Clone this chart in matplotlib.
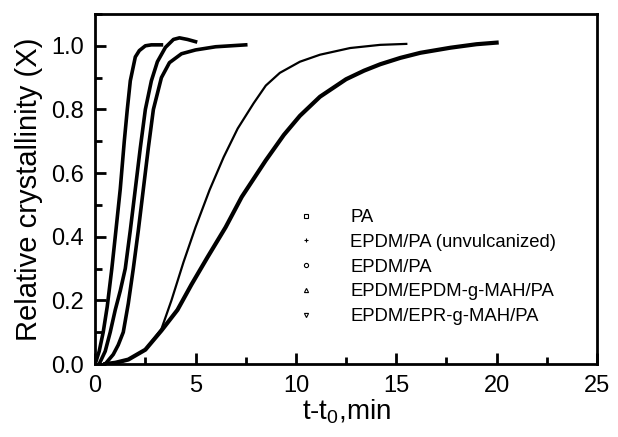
import matplotlib.pyplot as plt
from matplotlib.lines import Line2D
from matplotlib.ticker import MultipleLocator

plt.rcParams['font.family'] = ['Liberation Sans', 'DejaVu Sans']
plt.rcParams['mathtext.default'] = 'regular'

# values (t - t0 in min, relative crystallinity X)
t_pa = [0.2, 0.5, 0.75, 1.0, 1.25, 1.5, 1.75, 2.0, 2.25, 2.5, 2.8, 3.1, 3.5, 3.9, 4.2, 4.6, 5.0]
x_pa = [0, 0.04, 0.1, 0.17, 0.23, 0.3, 0.42, 0.55, 0.68, 0.8, 0.89, 0.95, 0.995, 1.02, 1.025, 1.02, 1.013]

t_unv = [0.8, 1.2, 1.65, 2.5, 3.3, 3.8, 4.4, 5.0, 5.7, 6.4, 7.1, 7.9, 8.5, 9.2, 10.2, 11.2, 12.7,
         14.2, 15.5]
x_unv = [0, 0.004, 0.014, 0.045, 0.11, 0.2, 0.32, 0.43, 0.547, 0.65, 0.74, 0.82, 0.875, 0.915, 0.95,
         0.972, 0.993, 1.003, 1.006]

t_epdm = [0.5, 0.9, 1.15, 1.4, 1.65, 1.9, 2.15, 2.4, 2.65, 2.9, 3.3, 3.7, 4.3, 5.0, 6.0, 7.5]
x_epdm = [0, 0.03, 0.06, 0.1, 0.19, 0.3, 0.42, 0.55, 0.68, 0.8, 0.9, 0.947, 0.975, 0.987, 0.997, 1.003]

t_mah = [0.5, 1.0, 1.65, 2.5, 3.3, 4.1, 4.8, 5.6, 6.5, 7.3, 8.5, 9.4, 10.2, 11.2, 12.5, 13.4, 14.2,
         15.2, 16.2, 17.7, 19.0, 20.0]
x_mah = [0, 0.004, 0.014, 0.045, 0.105, 0.17, 0.25, 0.336, 0.43, 0.525, 0.64, 0.72, 0.78, 0.84, 0.895,
         0.922, 0.942, 0.962, 0.978, 0.994, 1.005, 1.01]

t_epr = [0, 0.2, 0.4, 0.6, 0.83, 1.0, 1.25, 1.45, 1.6, 1.75, 2.0, 2.2, 2.5, 2.8, 3.3]
x_epr = [0, 0.04, 0.1, 0.18, 0.3, 0.4, 0.55, 0.7, 0.8, 0.89, 0.965, 0.985, 1.0, 1.003, 1.003]

labels = ['PA', 'EPDM/PA (unvulcanized)', 'EPDM/PA', 'EPDM/EPDM-g-MAH/PA', 'EPDM/EPR-g-MAH/PA']
markers = ['s', '+', 'o', '^', 'v']

fig = plt.figure(figsize=(6.18, 4.37), dpi=100)
ax = fig.add_axes([0.154, 0.167, 0.812, 0.801])

ax.plot(t_pa, x_pa, color='black', lw=2.6)
ax.plot(t_unv, x_unv, color='black', lw=1.6)
ax.plot(t_epdm, x_epdm, color='black', lw=2.6)
ax.plot(t_mah, x_mah, color='black', lw=3.0)
ax.plot(t_epr, x_epr, color='black', lw=2.6)

ax.set_xlim(0, 25)
ax.set_ylim(0, 1.1)
ax.xaxis.set_major_locator(MultipleLocator(5))
ax.xaxis.set_minor_locator(MultipleLocator(2.5))
ax.yaxis.set_major_locator(MultipleLocator(0.2))
ax.yaxis.set_minor_locator(MultipleLocator(0.1))
ax.tick_params(which='both', direction='in', width=2, labelsize=17, colors='black')
ax.tick_params(which='major', length=8)
ax.tick_params(which='minor', length=5)
ax.tick_params(axis='x', pad=8)
ax.tick_params(axis='y', pad=8)
for s in ax.spines.values():
    s.set_linewidth(2)

ax.set_xlabel('t-t$_0$,min', fontsize=20, labelpad=0)
ax.set_ylabel('Relative crystallinity (X)', fontsize=21, labelpad=6)

handles = [Line2D([], [], ls='none', marker=m, ms=3, mfc='white', mec='black', mew=0.8)
           for m in markers]
ax.legend(handles, labels, frameon=False, fontsize=13.3, loc='upper left',
          bbox_to_anchor=(0.35, 0.49), handletextpad=1.4, labelspacing=0.42)

plt.savefig('out.png', dpi=100)
